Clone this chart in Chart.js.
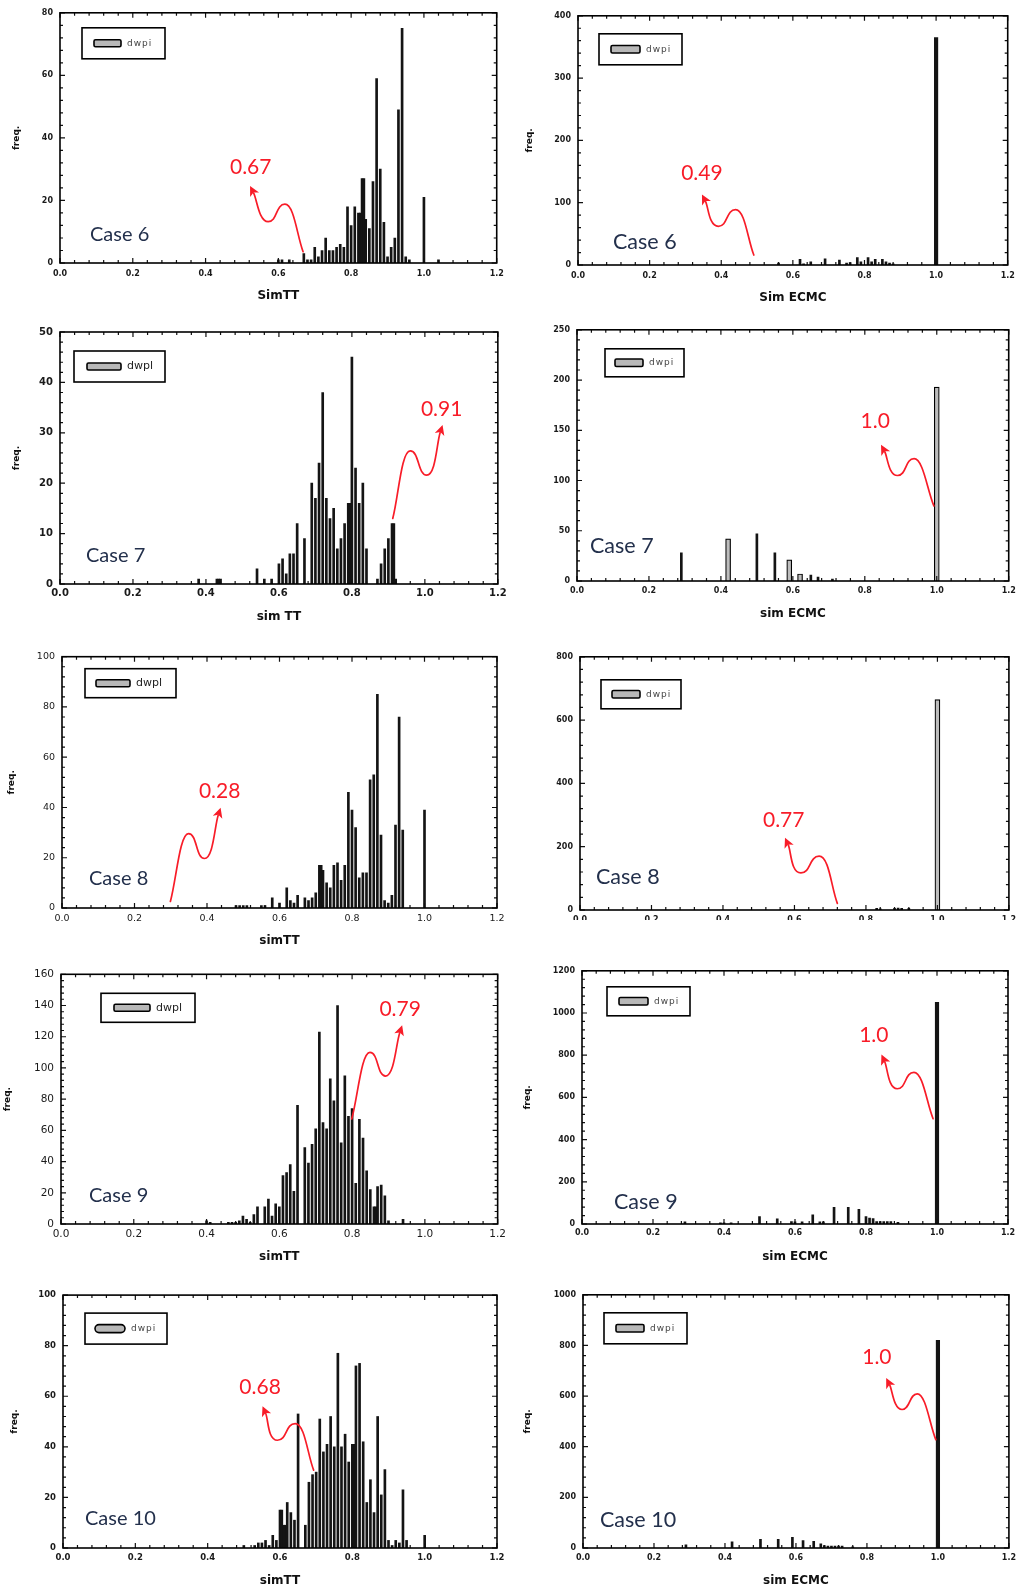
<!DOCTYPE html>
<html><head><meta charset="utf-8">
<script src="https://cdn.jsdelivr.net/npm/chart.js@4/dist/chart.umd.min.js"></script>
<style>
html,body{margin:0;padding:0;background:#fff;}
#wrap{position:relative;width:1021px;height:1591px;overflow:hidden;background:#fff;}
#wrap canvas{position:absolute;}
</style></head><body><div id="wrap"></div>
<script>
// ---------------- DATA ----------------
// Case 6 – SimTT
const case6TT_x = [0.60,0.61,0.63,0.67,0.68,0.69,0.70,0.71,0.72,0.73,0.74,0.75,0.76,0.77,0.78,0.79,0.80,0.81,0.82,0.825,0.83,0.835,0.84,0.85,0.86,0.87,0.88,0.89,0.90,0.91,0.92,0.93,0.94,0.95,0.96,1.00,1.04];
const case6TT_y = [1,1,1,3,1,1,5,2,4,8,4,4,5,6,5,18,12,18,16,16,27,27,14,11,26,59,30,13,2,5,8,49,75,2,1,21,1];
// Case 6 – Sim ECMC
const case6EC_x = [0.56,0.62,0.63,0.65,0.69,0.73,0.75,0.76,0.78,0.79,0.81,0.82,0.83,0.85,0.86,0.87,0.88];
const case6EC_y = [3,9,2,5,10,8,3,4,12,5,12,5,9,9,5,3,2];
const case6EC_wx = [1.00];
const case6EC_wy = [365];
// Case 7 – sim TT
const case7TT_x = [0.38,0.43,0.435,0.44,0.54,0.56,0.58,0.60,0.61,0.62,0.63,0.64,0.65,0.67,0.69,0.70,0.71,0.72,0.73,0.74,0.75,0.76,0.77,0.78,0.79,0.795,0.80,0.81,0.82,0.83,0.84,0.87,0.88,0.89,0.90,0.91,0.915,0.92];
const case7TT_y = [1,1,1,1,3,1,1,4,5,2,6,6,12,9,20,17,24,38,17,13,15,7,9,12,16,16,45,23,16,20,7,1,4,7,9,12,12,1];
// Case 7 – sim ECMC
const case7EC_x = [0.29,0.50,0.55,0.65,0.67,0.71];
const case7EC_y = [28,47,28,6,4,2];
const case7EC_wx = [0.42,0.59,0.62,1.00];
const case7EC_wy = [42,21,7,193];
// Case 8 – simTT
const case8TT_x = [0.48,0.49,0.50,0.51,0.55,0.56,0.58,0.60,0.62,0.63,0.64,0.65,0.67,0.68,0.69,0.70,0.71,0.715,0.72,0.73,0.74,0.75,0.76,0.77,0.78,0.79,0.80,0.81,0.82,0.83,0.84,0.85,0.86,0.87,0.88,0.89,0.90,0.91,0.92,0.93,0.94,1.00];
const case8TT_y = [1,1,1,1,1,1,4,2,8,3,2,5,4,3,4,6,17,17,15,10,8,17,18,11,17,46,39,32,12,14,14,51,53,85,29,3,2,5,33,76,31,39];
// Case 8 – ECMC
const case8EC_x = [0.83,0.84,0.88,0.89,0.90,0.92];
const case8EC_y = [5,4,5,6,5,5];
const case8EC_wx = [1.00];
const case8EC_wy = [665];
// Case 9 – simTT
const case9TT_x = [0.40,0.41,0.46,0.47,0.48,0.49,0.50,0.51,0.52,0.53,0.54,0.56,0.57,0.58,0.59,0.60,0.61,0.62,0.63,0.64,0.65,0.67,0.68,0.69,0.70,0.71,0.72,0.73,0.74,0.75,0.76,0.77,0.78,0.79,0.80,0.81,0.82,0.83,0.84,0.85,0.86,0.865,0.87,0.88,0.89,0.90,0.94];
const case9TT_y = [2,1,1,1,1,2,5,3,1,6,11,11,16,5,13,11,31,33,38,21,76,49,39,51,61,123,65,61,93,79,140,52,95,69,74,26,67,55,34,22,11,11,24,25,18,2,3];
// Case 9 – sim ECMC
const case9EC_x = [0.29,0.39,0.40,0.42,0.50,0.55,0.59,0.60,0.62,0.65,0.67,0.68,0.71,0.75,0.78,0.80,0.81,0.82,0.83,0.84,0.85,0.86,0.87,0.89];
const case9EC_y = [10,5,5,5,35,25,12,10,10,43,10,10,79,79,69,35,28,26,12,12,12,12,12,8];
const case9EC_wx = [1.00];
const case9EC_wy = [1050];
// Case 10 – simTT
const case10TT_x = [0.50,0.53,0.54,0.55,0.56,0.57,0.58,0.59,0.60,0.605,0.61,0.615,0.62,0.63,0.64,0.65,0.67,0.68,0.69,0.70,0.71,0.72,0.73,0.74,0.75,0.76,0.77,0.78,0.79,0.80,0.805,0.81,0.82,0.83,0.84,0.85,0.86,0.87,0.88,0.89,0.90,0.91,0.92,0.93,0.94,0.95,1.00];
const case10TT_y = [1,1,2,2,3,1,5,3,15,15,9,9,18,14,11,53,9,26,29,30,51,38,41,52,40,77,40,45,34,41,41,72,73,42,18,27,14,52,21,31,3,1,3,2,23,3,5];
// Case 10 – sim ECMC
const case10EC_x = [0.29,0.42,0.50,0.55,0.59,0.62,0.65,0.67,0.68,0.69,0.70,0.71,0.72,0.73,0.76];
const case10EC_y = [13,24,34,34,42,29,26,16,10,8,8,8,8,8,5];
const case10EC_wx = [1.00];
const case10EC_wy = [820];

const yMax  = [80,400,50,250,100,800,160,1200,100,1000];
const yStep = [20,100,10,50,20,200,20,200,20,200];
const xTickValues = [0,0.2,0.4,0.6,0.8,1.0,1.2];
const caseLabels  = ['Case 6','Case 6','Case 7','Case 7','Case 8','Case 8','Case 9','Case 9','Case 10','Case 10'];
const noteLabels  = ['0.67','0.49','0.91','1.0','0.28','0.77','0.79','1.0','0.68','1.0'];
const xTitles     = ['SimTT','Sim ECMC','sim TT','sim ECMC','simTT','','simTT','sim ECMC','simTT','sim ECMC'];
const legendLabels= ['dwpi','dwpi','dwpl','dwpi','dwpl','dwpi','dwpl','dwpi','dwpi','dwpi'];

const series = [
  {x:case6TT_x, y:case6TT_y},
  {x:case6EC_x, y:case6EC_y, wx:case6EC_wx, wy:case6EC_wy},
  {x:case7TT_x, y:case7TT_y},
  {x:case7EC_x, y:case7EC_y, wx:case7EC_wx, wy:case7EC_wy},
  {x:case8TT_x, y:case8TT_y},
  {x:case8EC_x, y:case8EC_y, wx:case8EC_wx, wy:case8EC_wy},
  {x:case9TT_x, y:case9TT_y},
  {x:case9EC_x, y:case9EC_y, wx:case9EC_wx, wy:case9EC_wy},
  {x:case10TT_x, y:case10TT_y},
  {x:case10EC_x, y:case10EC_y, wx:case10EC_wx, wy:case10EC_wy}
];

// ---------------- LAYOUT / STYLE ----------------
const P = [
 {plot:[60,12,497,263], tick:{size:8,weight:'bold'}, tpad:6.2, yTitleX:17, leg:{dx:22,dy:15,w:83,h:31,sx:12,sw:27,sh:7}, cs:{dx:30,dy:28,size:20},
  note:{t:[0.524,30.7], p:[[0.668,3.6],[0.618,18.8],[0.572,13.2],[0.526,23.8]]}},
 {plot:[578,15,1010,265], tick:{size:8,weight:'bold'}, tpad:6.2, yTitleX:530, leg:{dx:21,dy:18,w:83,h:31,sx:12,sw:29,sh:7.5}, cs:{dx:35,dy:23,size:21.5},
  note:{t:[0.346,147.7], p:[[0.491,16],[0.440,89],[0.392,62],[0.350,109]]}, wide:'solid'},
 {plot:[60,330,502,584], tick:{size:10,weight:'bold'}, tpad:3.3, yTitleX:17, leg:{dx:14,dy:19,w:91,h:31,sx:13,sw:34,sh:7,big:true}, cs:{dx:26,dy:28,size:20},
  note:{t:[1.046,34.7], p:[[0.912,13],[0.960,26.4],[1.005,21.6],[1.046,31]]}},
 {plot:[577,329,1010,581], tick:{size:8,weight:'bold'}, tpad:5.2, yTitleX:null, leg:{dx:28,dy:19,w:79,h:28,sx:10,sw:28,sh:7.5}, cs:{dx:13,dy:35,size:21.5},
  note:{t:[0.829,159], p:[[0.992,74.7],[0.937,121.7],[0.891,105],[0.849,133]]}, wide:'hollow'},
 {plot:[62,655,497,908], tick:{size:9.5,weight:'normal'}, tpad:4.6, yTitleX:12, leg:{dx:23,dy:12,w:91,h:29,sx:11,sw:34,sh:7,big:true}, cs:{dx:27,dy:29,size:20},
  note:{t:[0.435,46.4], p:[[0.299,2.6],[0.349,29.6],[0.393,19.7],[0.435,38.8]]}},
 {plot:[580,656,1013,910], tick:{size:8,weight:'bold'}, tpad:5, yTitleX:null, clip:true, leg:{dx:21,dy:23,w:80,h:29,sx:11,sw:28,sh:7.5}, cs:{dx:16,dy:33,size:21.5},
  note:{t:[0.570,283.5], p:[[0.72,21],[0.669,170],[0.618,117],[0.577,220]]}, wide:'hollow'},
 {plot:[61,972,503,1224], tick:{size:10.5,weight:'normal'}, tpad:4, yTitleX:8, leg:{dx:40,dy:19,w:94,h:29,sx:13,sw:36,sh:7,big:true}, cs:{dx:28,dy:28,size:20},
  note:{t:[0.932,137.5], p:[[0.799,67.3],[0.849,110],[0.892,94.8],[0.935,125.5]]}},
 {plot:[582,970,1008,1224], tick:{size:8,weight:'bold'}, tpad:4.5, yTitleX:528, leg:{dx:25,dy:16,w:83,h:29,sx:12,sw:29,sh:7.5}, cs:{dx:32,dy:22,size:21.5},
  note:{t:[0.822,896], p:[[0.989,499],[0.935,719],[0.888,641],[0.847,790]]}, wide:'solid'},
 {plot:[63,1294,497,1548], tick:{size:8.5,weight:'bold'}, tpad:4.6, yTitleX:15, leg:{dx:22,dy:18,w:82,h:31,sx:10,sw:30,sh:8,round:true}, cs:{dx:22,dy:29,size:20},
  note:{t:[0.545,63.5], p:[[0.693,30.8],[0.642,49.2],[0.593,42.6],[0.555,55]]}},
 {plot:[583,1294,1010,1548], tick:{size:8,weight:'bold'}, tpad:5, yTitleX:528, leg:{dx:21,dy:18,w:83,h:31,sx:12,sw:28,sh:7.5}, cs:{dx:17,dy:28,size:21.5},
  note:{t:[0.828,753], p:[[0.994,428],[0.942,609],[0.899,547],[0.858,661]]}, wide:'solid'}
];

const RED = '#f81c28';

const deco = {
  id: 'deco',
  afterDraw(chart, args, o) {
    const ctx = chart.ctx, a = chart.chartArea, xs = chart.scales.x, ys = chart.scales.y;
    ctx.save();
    // inward ticks
    ctx.strokeStyle = '#111'; ctx.lineWidth = 1.2;
    ctx.beginPath();
    for (let i = 0; i <= 30; i++) {
      const px = xs.getPixelForValue(i * 0.04);
      const len = i % 5 === 0 ? 5 : 3;
      ctx.moveTo(px, a.bottom); ctx.lineTo(px, a.bottom - len);
      ctx.moveTo(px, a.top); ctx.lineTo(px, a.top + len);
    }
    const n = Math.round(o.ymax / o.ystep) * 5;
    for (let i = 0; i <= n; i++) {
      const py = ys.getPixelForValue(i * o.ystep / 5);
      const len = i % 5 === 0 ? 5 : 3;
      ctx.moveTo(a.left, py); ctx.lineTo(a.left + len, py);
      ctx.moveTo(a.right, py); ctx.lineTo(a.right - len, py);
    }
    ctx.stroke();
    // frame
    ctx.lineWidth = 1.6; ctx.strokeStyle = '#000';
    ctx.strokeRect(a.left, a.top, a.right - a.left, a.bottom - a.top);
    // legend box
    const L = o.leg, bx = a.left + L.dx, by = a.top + L.dy;
    ctx.fillStyle = '#fff'; ctx.fillRect(bx, by, L.w, L.h);
    ctx.lineWidth = 1.6; ctx.strokeRect(bx, by, L.w, L.h);
    const sy = by + L.h / 2 - L.sh / 2;
    ctx.beginPath();
    ctx.roundRect(bx + L.sx, sy, L.sw, L.sh, L.round ? L.sh / 2 : 1.5);
    ctx.fillStyle = '#b8b8b8'; ctx.fill(); ctx.lineWidth = 1.6; ctx.stroke();
    ctx.fillStyle = L.big ? '#222' : '#444';
    ctx.font = (L.big ? '11px' : '9px') + ' "DejaVu Sans"';
    ctx.letterSpacing = L.big ? '0px' : '1px';
    ctx.textAlign = 'left'; ctx.textBaseline = 'middle';
    ctx.fillText(o.legendText, bx + L.sx + L.sw + 6, by + L.h / 2);
    ctx.letterSpacing = '0px';
    // case label
    ctx.font = o.cs.size + 'px Lato'; ctx.fillStyle = '#23304c';
    ctx.fillText(o.caseText, a.left + o.cs.dx, a.bottom - o.cs.dy);
    // red note + wavy arrow
    const pts = o.note.p.map(([v, f]) => [xs.getPixelForValue(v), ys.getPixelForValue(f)]);
    const [T, Hm, Tr, Hd] = pts;
    const dir = Math.sign(Hd[0] - T[0]) || 1;
    const h = 0.55 * Math.abs(Hm[0] - Tr[0]);
    const c2 = [Hd[0] - (Hd[0] - Tr[0]) / 3, Hd[1] - (Hd[1] - Tr[1]) / 3];
    let dx = Hd[0] - c2[0], dy = Hd[1] - c2[1];
    const dl = Math.hypot(dx, dy) || 1; dx /= dl; dy /= dl;
    const tip = [Hd[0] + dx * 3, Hd[1] + dy * 3];
    const base = [tip[0] - dx * 10, tip[1] - dy * 10];
    ctx.strokeStyle = RED; ctx.fillStyle = RED; ctx.lineWidth = 1.7; ctx.lineCap = 'round';
    ctx.beginPath();
    ctx.moveTo(T[0], T[1]);
    ctx.bezierCurveTo(T[0] + (Hm[0] - T[0]) / 3, T[1] + (Hm[1] - T[1]) / 3, Hm[0] - dir * h, Hm[1], Hm[0], Hm[1]);
    ctx.bezierCurveTo(Hm[0] + dir * h, Hm[1], Tr[0] - dir * h, Tr[1], Tr[0], Tr[1]);
    ctx.bezierCurveTo(Tr[0] + dir * h, Tr[1], c2[0], c2[1], base[0] + dx * 2, base[1] + dy * 2);
    ctx.stroke();
    ctx.beginPath();
    ctx.moveTo(tip[0], tip[1]);
    ctx.lineTo(base[0] - dy * 5, base[1] + dx * 5);
    ctx.lineTo(base[0] + dx * 2.5, base[1] + dy * 2.5);
    ctx.lineTo(base[0] + dy * 5, base[1] - dx * 5);
    ctx.closePath(); ctx.fill();
    ctx.font = '21px Lato'; ctx.textAlign = 'center'; ctx.textBaseline = 'middle';
    const tp = [xs.getPixelForValue(o.note.t[0]), ys.getPixelForValue(o.note.t[1])];
    ctx.fillText(o.noteText, tp[0], tp[1]);
    ctx.restore();
  }
};

const wrap = document.getElementById('wrap');
P.forEach((p, i) => {
  const [L, T, R, B] = p.plot;
  const cl = L < 510 ? 0 : 510, cw = cl === 0 ? 510 : 511;
  const ct = T - 11, cb = p.clip ? B + 12 : B + 42, ch = cb - ct;
  const cv = document.createElement('canvas');
  cv.width = cw; cv.height = ch;
  cv.style.left = cl + 'px'; cv.style.top = ct + 'px';
  cv.style.width = cw + 'px'; cv.style.height = ch + 'px';
  if (p.clip) cv.style.clipPath = 'inset(0px 0px 2.5px 0px)';
  wrap.appendChild(cv);
  const S = series[i];
  const datasets = [{
    label: legendLabels[i],
    data: S.x.map((v, k) => ({x: v, y: S.y[k]})),
    backgroundColor: '#141414', borderWidth: 0, barThickness: 2, grouped: false
  }];
  if (S.wx) {
    const hollow = p.wide === 'hollow';
    datasets.push({
      label: legendLabels[i],
      data: S.wx.map((v, k) => ({x: v, y: S.wy[k]})),
      backgroundColor: hollow ? '#bdbdbd' : '#141414',
      borderColor: '#000', borderWidth: hollow ? 1.2 : 0,
      barThickness: hollow ? 5 : 3.5, grouped: false
    });
  }
  const tickFont = {family: 'DejaVu Sans', size: p.tick.size, weight: p.tick.weight, lineHeight: 1.2};
  new Chart(cv, {
    type: 'bar',
    data: {datasets},
    options: {
      responsive: false, animation: false, devicePixelRatio: 1,
      layout: {padding: {left: 0, top: 11, right: (cl + cw) - R, bottom: 0}},
      plugins: {
        legend: {display: false}, tooltip: {enabled: false},
        deco: {ymax: yMax[i], ystep: yStep[i], leg: p.leg, legendText: legendLabels[i], cs: p.cs, caseText: caseLabels[i], note: p.note, noteText: noteLabels[i]}
      },
      scales: {
        x: {
          type: 'linear', min: 0, max: 1.2, offset: false,
          grid: {display: false, drawTicks: false}, border: {display: false},
          afterBuildTicks: s => { s.ticks = xTickValues.map(v => ({value: v})); },
          ticks: {padding: p.tpad, font: tickFont, color: '#1a1a1a', maxRotation: 0, autoSkip: false, callback: v => Number(v).toFixed(1)},
          title: {display: !!xTitles[i], text: xTitles[i], color: '#111', font: {family: 'DejaVu Sans', size: 12, weight: 'bold', lineHeight: 1.2}, padding: {top: 0, bottom: 1.8}},
          afterFit: s => { s.height = cb - B; }
        },
        y: {
          min: 0, max: yMax[i],
          grid: {display: false, drawTicks: false}, border: {display: false},
          ticks: {stepSize: yStep[i], padding: 7, font: tickFont, color: '#1a1a1a', autoSkip: false, callback: v => String(Math.round(v))},
          title: {display: p.yTitleX !== null, text: 'freq.', color: '#111', font: {family: 'DejaVu Sans', size: 9, weight: 'bold', lineHeight: 1.2}, padding: {top: (p.yTitleX || 0) - cl - 5.4, bottom: 0}},
          afterFit: s => { s.width = L - cl; }
        }
      }
    },
    plugins: [deco]
  });
});
</script>
</body></html>
